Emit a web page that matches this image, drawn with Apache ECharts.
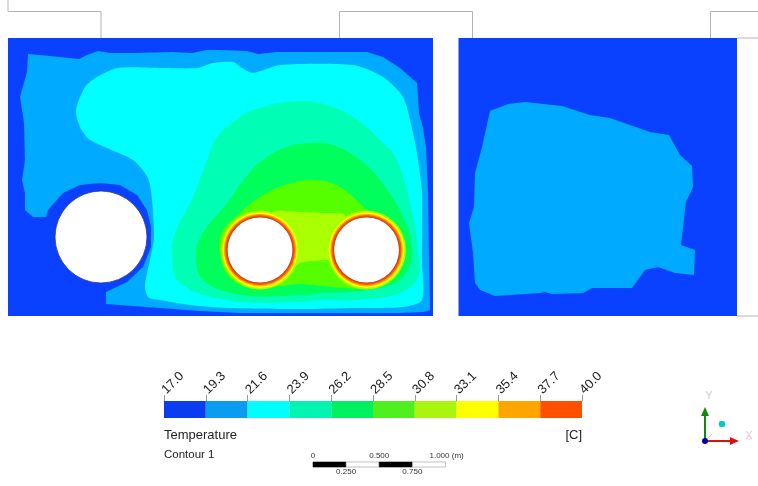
<!DOCTYPE html>
<html><head><meta charset="utf-8">
<style>html,body{margin:0;padding:0;background:#fff}#c{width:758px;height:486px}</style>
<script src="https://cdn.jsdelivr.net/npm/echarts@6/dist/echarts.min.js"></script>
</head><body><div id="c"></div>
<script>
const tickLabels = ['17.0','19.3','21.6','23.9','26.2','28.5','30.8','33.1','35.4','37.7','40.0'];
const bandColors = ['#0a40ff','#00aaff','#00ffff','#00ffb4','#00ff5a','#55ff00','#aaff00','#ffff00','#ffaa00','#ff5500'];
const barColors  = ['#0a3cf0','#0a9cf0','#00ffff','#00f5b0','#00f060','#50f020','#aaf510','#ffff00','#ffa500','#ff5000'];

// contour regions, in image-plane units
const panelLeft  = [[8,38],[433,38],[433,316],[8,316]];
const panelRight = [[458.5,38],[737,38],[737,316],[458.5,316]];
const band2Left = [[28,54],[50,56],[79,59],[87,55],[98,51],[110,53],[133,53],[173,52],[192,53],[207,50],[220,50],[247,51],[258,54],[277,52],[367,52],[383,57],[400,68],[417,83],[419,113],[423,128],[426,147],[428,193],[429,260],[430,310],[423,312],[400,313],[300,313],[240,313],[200,311],[160,308],[133,306],[106,304],[106,292],[127,282],[143,267],[151,247],[151,227],[147,210],[137,195],[120,185],[100,183],[80,185],[63,193],[48,210],[46,217],[33,217],[25,210],[25,193],[22,180],[25,160],[24,123],[20,97],[27,72]];
const band2Right = [[490,111],[508,104],[525,102],[562,106],[590,115],[610,118],[650,132],[669,135],[680,155],[692,166],[693,187],[686,202],[681,245],[695,250],[694,275],[675,273],[658,267],[645,270],[632,288],[592,288],[583,293],[552,294],[545,292],[540,293],[495,296],[480,290],[475,283],[473,253],[469,223],[474,207],[475,173],[482,147]];
const band3 = [[118,68],[160,68],[197,68],[213,63],[233,62],[242,68],[253,73],[280,65],[353,65],[383,77],[403,97],[413,133],[418,160],[422,193],[422,260],[422,300],[403,307],[357,308],[300,309],[227,308],[190,305],[160,300],[148,297],[145,285],[150,260],[154,237],[152,200],[148,178],[133,160],[90,140],[80,127],[76,110],[85,87],[97,77]];
const band4 = [[240,117],[253,110],[287,102],[320,103],[353,117],[380,140],[397,160],[413,217],[418,253],[418,277],[400,293],[357,300],[323,300],[300,302],[227,300],[180,283],[172,257],[175,233],[193,197],[207,160],[217,137]];
const band5 = [[267,157],[287,147],[310,143],[333,145],[360,160],[380,180],[403,217],[412,253],[403,277],[383,287],[350,292],[323,293],[300,295],[243,295],[203,280],[196,253],[203,233],[227,203],[250,172]];
const band6 = [[240,213],[260,197],[285,185],[313,180],[340,187],[367,210],[400,235],[403,255],[395,275],[370,288],[345,288],[322,286],[300,284],[282,286],[250,288],[228,275],[220,252],[222,232]];
const band7 = [[273,212],[300,212],[323,213],[345,215],[345,260],[327,260],[303,262],[290,268],[275,262],[273,240]];
const pipeHalos = [
  [260,250,39.5,6],[366.5,250,39.5,6],
  [260,250,37.8,7],[366.5,250,37.8,7],
  [260,250,36.3,8],[366.5,250,36.3,8],
  [260,250,35,9],[366.5,250,35,9]
];
const pipes = [[101,237,46],[260,250,33],[366.5,250,33]];
const outlines = [
  [[8,0],[8,11.5],[101,11.5],[101,38]],
  [[339.5,38],[339.5,11.5],[472.5,11.5],[472.5,38]],
  [[710.5,38],[710.5,11.5],[758,11.5]],
  [[737,38],[758,38]],
  [[737,316],[758,316]]
];
const regions = [
  [panelLeft,0,0],[panelRight,0,0],[band2Left,1,0],[band2Right,1,0],[band3,2,0.25],[band4,3,0.4],[band5,4,0.4],[band6,5,0.4],[band7,6,0.2]
];

// length scale
const scaleTicks = [0,0.25,0.5,0.75,1];
const scaleLabels = ['0','0.250','0.500','0.750','1.000 (m)'];

const overlay = {xAxisIndex:0,yAxisIndex:0};
const series = [
  Object.assign({type:'custom',silent:true,z:1,data:regions.map((r,i)=>[i]),
    renderItem(p,api){const r=regions[api.value(0)];
      return {type:'polygon',shape:{points:r[0].map(q=>api.coord(q)),smooth:r[2]},style:{fill:bandColors[r[1]]}};}},overlay),
  Object.assign({type:'custom',silent:true,z:2,data:pipeHalos,
    renderItem(p,api){const c=api.coord([api.value(0),api.value(1)]);
      return {type:'circle',shape:{cx:c[0],cy:c[1],r:api.value(2)},style:{fill:bandColors[api.value(3)]}};}},overlay),
  Object.assign({type:'custom',silent:true,z:3,data:pipes,
    renderItem(p,api){const c=api.coord([api.value(0),api.value(1)]);
      const hot=api.value(2)<40;
      return {type:'circle',shape:{cx:c[0],cy:c[1],r:api.value(2)},style:{fill:'#fff',stroke:hot?'#c84a20':'#303080',lineWidth:hot?1.2:0.8}};}},overlay),
  Object.assign({type:'custom',silent:true,z:3,data:outlines.map((o,i)=>[i]),
    renderItem(p,api){return {type:'polyline',shape:{points:outlines[api.value(0)].map(q=>api.coord(q))},style:{fill:null,stroke:'#b4b4b4',lineWidth:1}};}},overlay),
  // colour bar
  {type:'custom',silent:true,z:3,xAxisIndex:1,yAxisIndex:1,data:barColors.map((c,i)=>[i]),
    renderItem(p,api){const i=api.value(0);
      const a=api.coord([i,1]),b=api.coord([i+1,0]);
      return {type:'rect',shape:{x:a[0],y:a[1],width:b[0]-a[0],height:b[1]-a[1]},style:{fill:barColors[i]}};}},
  // length scale
  {type:'custom',silent:true,z:3,xAxisIndex:2,yAxisIndex:2,data:scaleTicks.map((v,i)=>[v,i]),
    renderItem(p,api){const v=api.value(0),i=api.value(1);
      const top=api.coord([v,1]),bot=api.coord([v,0]);
      const ch=[];
      if(i<scaleTicks.length-1){const e=api.coord([scaleTicks[i+1],0]);
        ch.push({type:'rect',shape:{x:top[0],y:top[1],width:e[0]-top[0],height:bot[1]-top[1]},
          style:{fill:i%2?'#fff':'#000',stroke:i%2?'#999':'#000',lineWidth:0.6}});}
      ch.push({type:'text',x:i===4?top[0]-16:top[0],y:i%2?bot[1]+5:top[1]-6,
        style:{text:scaleLabels[i],font:'8px "Liberation Sans"',fill:'#333',
        align:i===4?'left':'center',verticalAlign:'middle'}});
      return {type:'group',children:ch};}}
];

const txt=(x,y,t,extra)=>({type:'text',x,y,silent:true,style:Object.assign({text:t,font:'13px "Liberation Sans"',fill:'#222',textVerticalAlign:'middle'},extra||{})});
const line=(pts,c,w)=>({type:'polyline',silent:true,shape:{points:pts},style:{stroke:c,lineWidth:w,fill:null}});
const tri=(pts,c)=>({type:'polygon',silent:true,shape:{points:pts},style:{fill:c}});

const chart = echarts.init(document.getElementById('c'),null,{renderer:'canvas'});
chart.setOption({
  animation:false,backgroundColor:'#fff',
  tooltip:{show:false},
  grid:[
    {left:0,top:0,right:0,bottom:0},
    {left:164,width:418,top:401,height:17},
    {left:313,width:132.5,top:462,height:5}
  ],
  xAxis:[
    {type:'value',min:0,max:758,show:false},
    {type:'category',gridIndex:1,data:tickLabels,boundaryGap:false,position:'top',
     axisLine:{show:true,onZero:false,lineStyle:{color:'#aaa',width:1}},axisTick:{show:true,alignWithLabel:true,length:6,lineStyle:{color:'#999'}},
     splitLine:{show:false},
     axisLabel:{interval:0,rotate:-45,margin:9,fontSize:13,color:'#222',fontFamily:'Liberation Sans',showMinLabel:true,showMaxLabel:true}},
    {type:'value',gridIndex:2,min:0,max:1,show:false}
  ],
  yAxis:[
    {type:'value',min:0,max:486,inverse:true,show:false},
    {type:'value',gridIndex:1,min:0,max:1,show:false},
    {type:'value',gridIndex:2,min:0,max:1,show:false}
  ],
  series,
  graphic:[
    txt(164,435,'Temperature'),
    txt(582,435,'[C]',{textAlign:'right'}),
    txt(164,455,'Contour 1',{font:'11.5px "Liberation Sans"'}),
    txt(709,396,'Y',{fill:'#d0d0d0',font:'11px "Liberation Sans"',textAlign:'center'}),
    txt(749,436,'X',{fill:'#f0c0d4',font:'11px "Liberation Sans"',textAlign:'center'}),
    line([[705,441],[712,434]],'#cccccc',1),
    line([[705,441],[705,414]],'#118811',2),
    tri([[705,407],[701,416],[709,416]],'#118811'),
    line([[705,441],[731,441]],'#e01010',2),
    tri([[739,441],[730,437],[730,445]],'#e01010'),
    {type:'circle',silent:true,shape:{cx:705,cy:441,r:3},style:{fill:'#0000a0'}},
    {type:'circle',silent:true,shape:{cx:722,cy:424,r:3.3},style:{fill:'#10c8c8'}}
  ]
});
</script></body></html>
